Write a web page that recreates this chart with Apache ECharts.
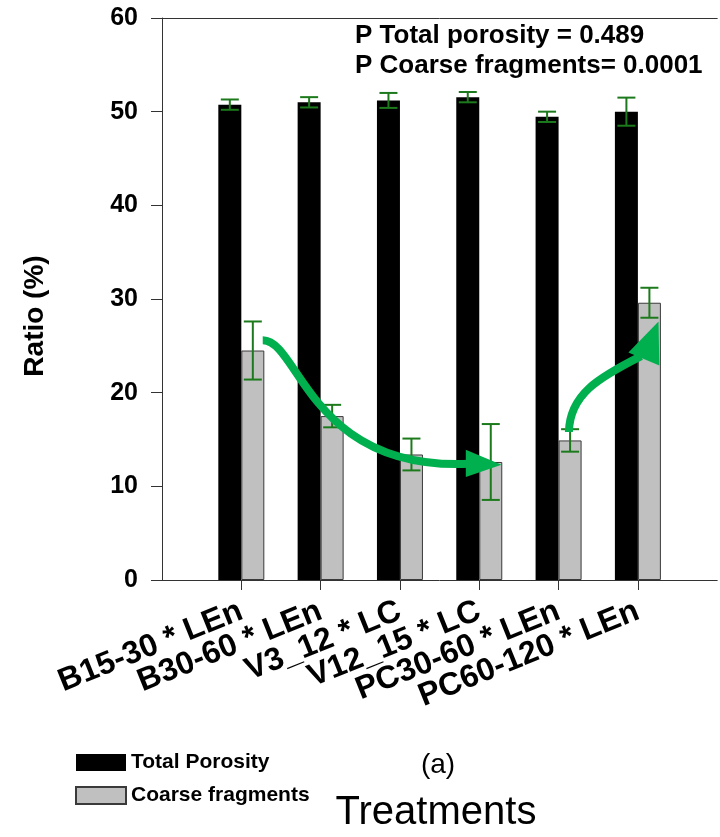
<!DOCTYPE html>
<html>
<head>
<meta charset="utf-8">
<script src="https://cdn.jsdelivr.net/npm/echarts@6/dist/echarts.min.js"></script>
<style>html,body{margin:0;padding:0;background:#fff}#c{width:720px;height:837px}</style>
</head>
<body>
<div id="c"></div>
<script>
// ---- data ----
const categories = ['B15-30 * LEn', 'B30-60 * LEn', 'V3_12 * LC', 'V12_15 * LC', 'PC30-60 * LEn', 'PC60-120 * LEn'];
const totalPorosity = [50.75, 51.0, 51.2, 51.55, 49.45, 50.0];
const totalPorosityErr = [0.55, 0.55, 0.8, 0.55, 0.55, 1.5];
const coarseFragments = [24.5, 17.5, 13.4, 12.6, 14.9, 29.6];
const coarseFragmentsErr = [3.1, 1.2, 1.7, 4.05, 1.2, 1.6];
const yMin = 0, yMax = 60, yStep = 10;
const annotationLines = ['P Total porosity = 0.489', 'P Coarse fragments= 0.0001'];
// trend arrows (x in category units, y in %): start, control1, control2, end, head[3]
const arrowDown = { curve: [[1.27, 25.6], [1.73, 25.6], [1.86, 11.7], [3.86, 12.4]], head: [[3.83, 13.9], [4.28, 12.3], [3.83, 11.0]] };
const arrowUp = { curve: [[5.13, 15.8], [5.14, 19.8], [5.50, 21.6], [6.04, 23.9]], head: [[5.88, 24.3], [6.26, 27.6], [6.27, 22.9]] };

// ---- chart ----
const FONT = 'Liberation Sans, Arial, sans-serif';
const BAR_W = 23;
const axisCats = [''].concat(categories, ['']);
const pad = arr => [null].concat(arr, [null]);
const chart = echarts.init(document.getElementById('c'));

function errSeries(name, vals, errs, dx) {
  return {
    type: 'custom', name: name + ' err', z: 5, silent: true,
    xAxisIndex: 0, yAxisIndex: 0,
    data: vals.map((v, i) => [i + 1, v - errs[i], v + errs[i]]),
    renderItem: function (params, api) {
      const lo = api.coord([api.value(0), api.value(1)]);
      const hi = api.coord([api.value(0), api.value(2)]);
      const x = lo[0] + dx, c = 9;
      const st = { stroke: '#1c7a1c', lineWidth: 2 };
      return { type: 'group', children: [
        { type: 'line', shape: { x1: x, y1: lo[1], x2: x, y2: hi[1] }, style: st },
        { type: 'line', shape: { x1: x - c, y1: lo[1], x2: x + c, y2: lo[1] }, style: st },
        { type: 'line', shape: { x1: x - c, y1: hi[1], x2: x + c, y2: hi[1] }, style: st }
      ] };
    }
  };
}

function arrowSeries(a) {
  return {
    type: 'custom', z: 6, silent: true, xAxisIndex: 1, yAxisIndex: 0,
    data: [0],
    renderItem: function (params, api) {
      const p = a.curve.map(q => api.coord(q));
      const h = a.head.map(q => api.coord(q));
      return { type: 'group', children: [
        { type: 'bezierCurve', shape: { x1: p[0][0], y1: p[0][1], cpx1: p[1][0], cpy1: p[1][1], cpx2: p[2][0], cpy2: p[2][1], x2: p[3][0], y2: p[3][1] },
          style: { stroke: '#00b04f', lineWidth: 8, fill: null, lineCap: 'butt' } },
        { type: 'polygon', shape: { points: h }, style: { fill: '#00b04f' } }
      ] };
    }
  };
}

chart.setOption({
  animation: false,
  backgroundColor: '#fff',
  grid: { left: 162, right: 0, top: 18, bottom: 257 },
  legend: {
    data: ['Total Porosity', 'Coarse fragments'],
    orient: 'vertical', left: 70, top: 747, itemWidth: 50, itemHeight: 17, itemGap: 12,
    icon: 'rect',
    textStyle: { fontFamily: FONT, fontWeight: 'bold', fontSize: 21, color: '#000' }
  },
  xAxis: [{
    type: 'category', data: axisCats, boundaryGap: false, position: 'bottom',
    axisLine: { lineStyle: { color: '#333', width: 1 } },
    axisTick: { length: 10, interval: (i) => i > 0 && i < axisCats.length - 1, lineStyle: { color: '#333' } },
    axisLabel: { interval: 0, rotate: 22, margin: 30, fontFamily: FONT, fontWeight: 'bold', fontSize: 32, color: '#000' },
    splitLine: { show: false }
  }, {
    type: 'value', min: 0, max: axisCats.length - 1, position: 'top',
    axisLine: { show: true, onZero: false, lineStyle: { color: '#333', width: 1 } },
    axisTick: { show: false }, axisLabel: { show: false }, splitLine: { show: false }
  }],
  yAxis: [{
    type: 'value', min: yMin, max: yMax, interval: yStep,
    axisLine: { show: true, lineStyle: { color: '#333', width: 1 } },
    axisTick: { show: true, length: 11, lineStyle: { color: '#333' } },
    axisLabel: { margin: 24, fontFamily: FONT, fontWeight: 'bold', fontSize: 25, color: '#000' },
    splitLine: { show: false }
  }],
  graphic: [
    { type: 'text', left: 355, top: 21, style: { text: annotationLines.join('\n'), font: 'bold 26px ' + FONT, lineHeight: 30, fill: '#000' } },
    { type: 'text', x: 35, y: 316, rotation: Math.PI / 2, style: { text: 'Ratio (%)', font: 'bold 28px ' + FONT, fill: '#000', align: 'center', verticalAlign: 'middle' } },
    { type: 'text', x: 438, y: 765, style: { text: '(a)', font: '28px ' + FONT, fill: '#000', align: 'center', verticalAlign: 'middle' } },
    { type: 'text', x: 436, y: 813, style: { text: 'Treatments', font: '40px ' + FONT, fill: '#000', align: 'center', verticalAlign: 'middle' } }
  ],
  series: [
    { name: 'Total Porosity', type: 'bar', data: pad(totalPorosity), barWidth: BAR_W, barGap: '0%',
      itemStyle: { color: '#000' } },
    { name: 'Coarse fragments', type: 'bar', data: pad(coarseFragments), barWidth: BAR_W, barGap: '0%',
      itemStyle: { color: '#c0c0c0', borderColor: '#3a3a3a', borderWidth: 1 } },
    errSeries('Total Porosity', totalPorosity, totalPorosityErr, -BAR_W / 2),
    errSeries('Coarse fragments', coarseFragments, coarseFragmentsErr, BAR_W / 2),
    arrowSeries(arrowDown),
    arrowSeries(arrowUp)
  ]
});
</script>
</body>
</html>
